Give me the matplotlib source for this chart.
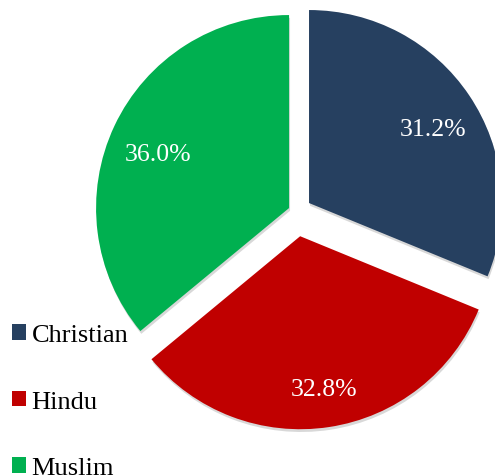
import matplotlib.pyplot as plt
from matplotlib.patches import Shadow

# dados do gráfico
religions = ['Christian', 'Hindu', 'Muslim']
shares = [31.2, 32.8, 36.0]
colors = ['#264060', '#C00000', '#00B050']
explode = [15.2, 25.0, 8.1]   # deslocamento em pixels

W, H = 495, 477
plt.rcParams['font.family'] = ['Liberation Serif', 'DejaVu Serif']

fig = plt.figure(figsize=(W / 100, H / 100), dpi=100)
ax = fig.add_axes([0, 0, 1, 1])

wedges, texts, autotexts = ax.pie(
    shares, colors=colors, explode=explode, startangle=90, counterclock=False,
    radius=193, center=(296.4, 264.5), autopct='%.1f%%', pctdistance=0.76,
    textprops={'color': 'white', 'fontsize': 18.5},
    wedgeprops={'linewidth': 0},
)

# sombra leve embaixo das fatias
for w in wedges:
    s = Shadow(w, 0.7, -2.0)
    s.set_facecolor('0.5')
    s.set_alpha(0.3)
    s.set_zorder(w.get_zorder() - 0.5)
    ax.add_patch(s)

# rótulos um pouco mais para baixo
for t in autotexts:
    x, y = t.get_position()
    t.set_position((x + 2, y - 8))

ax.set_xlim(0, W)
ax.set_ylim(0, H)
ax.set_aspect('equal')
ax.axis('off')

leg = ax.legend(wedges, religions, loc='upper left', bbox_to_anchor=(12 / W, 152 / H),
                frameon=False, borderpad=0, borderaxespad=0, handlelength=0.54,
                handleheight=0.54, handletextpad=0.2, labelspacing=1.68,
                prop={'size': 19})

fig.savefig('out.png', dpi=100)
